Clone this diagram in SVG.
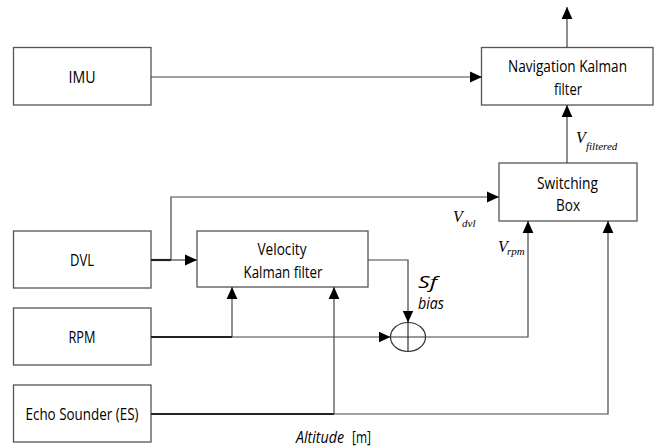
<svg xmlns="http://www.w3.org/2000/svg" width="660" height="448" viewBox="0 0 660 448">
<style>
.box{fill:#fff;stroke:#555;stroke-width:1.3}
.lbl{font-family:"Open Sans","Noto Sans",sans-serif;font-size:17px;fill:#000;text-anchor:middle}
.ln{fill:none;stroke:#444;stroke-width:1.2}
.thick{fill:none;stroke:#222;stroke-width:2.2}
.v{font-family:"Liberation Serif",serif;font-style:italic;fill:#000}
.it{font-family:"Open Sans","Noto Sans",sans-serif;font-style:italic;font-size:17px;fill:#000}
.up{font-family:"Open Sans","Noto Sans",sans-serif;font-size:17px;fill:#000}
</style>
<defs>
<marker id="ah" markerUnits="userSpaceOnUse" markerWidth="12" markerHeight="12" viewBox="0 0 10 10" refX="10" refY="5" orient="auto">
<path d="M0,0.5 L10,5 L0,9.5 Z" fill="#000"/>
</marker>
</defs>
<rect width="660" height="448" fill="#fff"/>

<g id="imu"><rect class="box" x="13.5" y="47.5" width="137.5" height="57.5"/><text class="lbl" x="82" y="83" textLength="27" lengthAdjust="spacingAndGlyphs">IMU</text></g>
<g id="nav"><rect class="box" x="481.5" y="47.5" width="171.5" height="57.5"/><text class="lbl" x="567.5" y="72" textLength="119" lengthAdjust="spacingAndGlyphs">Navigation Kalman</text><text class="lbl" x="568" y="95" textLength="28" lengthAdjust="spacingAndGlyphs">filter</text></g>
<g id="switch"><rect class="box" x="499" y="163" width="138" height="58"/><text class="lbl" x="567.5" y="188.5" textLength="61" lengthAdjust="spacingAndGlyphs">Switching</text><text class="lbl" x="568" y="211" textLength="24" lengthAdjust="spacingAndGlyphs">Box</text></g>
<g id="dvl"><rect class="box" x="13.5" y="231" width="137.5" height="57"/><text class="lbl" x="82" y="266" textLength="24" lengthAdjust="spacingAndGlyphs">DVL</text></g>
<g id="vkf"><rect class="box" x="197" y="231" width="171" height="56"/><text class="lbl" x="282" y="255" textLength="49" lengthAdjust="spacingAndGlyphs">Velocity</text><text class="lbl" x="283" y="278" textLength="79" lengthAdjust="spacingAndGlyphs">Kalman filter</text></g>
<g id="rpm"><rect class="box" x="13.5" y="308" width="137.5" height="57"/><text class="lbl" x="82" y="343" textLength="27" lengthAdjust="spacingAndGlyphs">RPM</text></g>
<g id="es"><rect class="box" x="13.5" y="385" width="137.5" height="57"/><text class="lbl" x="82" y="420" textLength="113" lengthAdjust="spacingAndGlyphs">Echo Sounder (ES)</text></g>
<g id="sum"><ellipse cx="408" cy="337" rx="17.5" ry="14.5" fill="#fff" stroke="#333" stroke-width="1.2"/><path d="M390.5,337 H425.5 M408,322.5 V351.5" stroke="#333" stroke-width="1.2"/></g>

<g id="connectors">
<path class="ln" d="M151,77 H482" marker-end="url(#ah)"/>
<path class="ln" d="M567,47.5 V7" marker-end="url(#ah)"/>
<path class="ln" d="M567,163 V105" marker-end="url(#ah)"/>
<path class="thick" d="M151,260 H171"/>
<path class="ln" d="M171,260 H197" marker-end="url(#ah)"/>
<path class="ln" d="M171,260 V197 H499" marker-end="url(#ah)"/>
<path class="ln" d="M368,260 H408 V322.5" marker-end="url(#ah)"/>
<path class="thick" d="M151,337 H232"/>
<path class="ln" d="M232,337 H390.5" marker-end="url(#ah)"/>
<path class="ln" d="M232,337 V287" marker-end="url(#ah)"/>
<path class="ln" d="M425.5,337 H528 V221" marker-end="url(#ah)"/>
<path class="thick" d="M151,414 H334"/>
<path class="ln" d="M334,414 H608 V221" marker-end="url(#ah)"/>
<path class="ln" d="M334,414 V287" marker-end="url(#ah)"/>
</g>

<g id="labels">
<text class="v" x="576" y="143" font-size="16">V</text><text class="v" x="586" y="150" font-size="11">filtered</text>
<text class="v" x="453" y="221.5" font-size="16">V</text><text class="v" x="462" y="226.5" font-size="11">dvl</text>
<text class="v" x="498" y="251.5" font-size="16">V</text><text class="v" x="507" y="255" font-size="11">rpm</text>
<text class="it" x="418" y="288" textLength="19" lengthAdjust="spacingAndGlyphs">Sf</text>
<text class="it" x="418" y="309" textLength="26" lengthAdjust="spacingAndGlyphs">bias</text>
<text class="it" x="296" y="443" textLength="48" lengthAdjust="spacingAndGlyphs">Altitude</text>
<text class="up" x="352" y="443" textLength="19" lengthAdjust="spacingAndGlyphs">[m]</text>
</g>
</svg>
